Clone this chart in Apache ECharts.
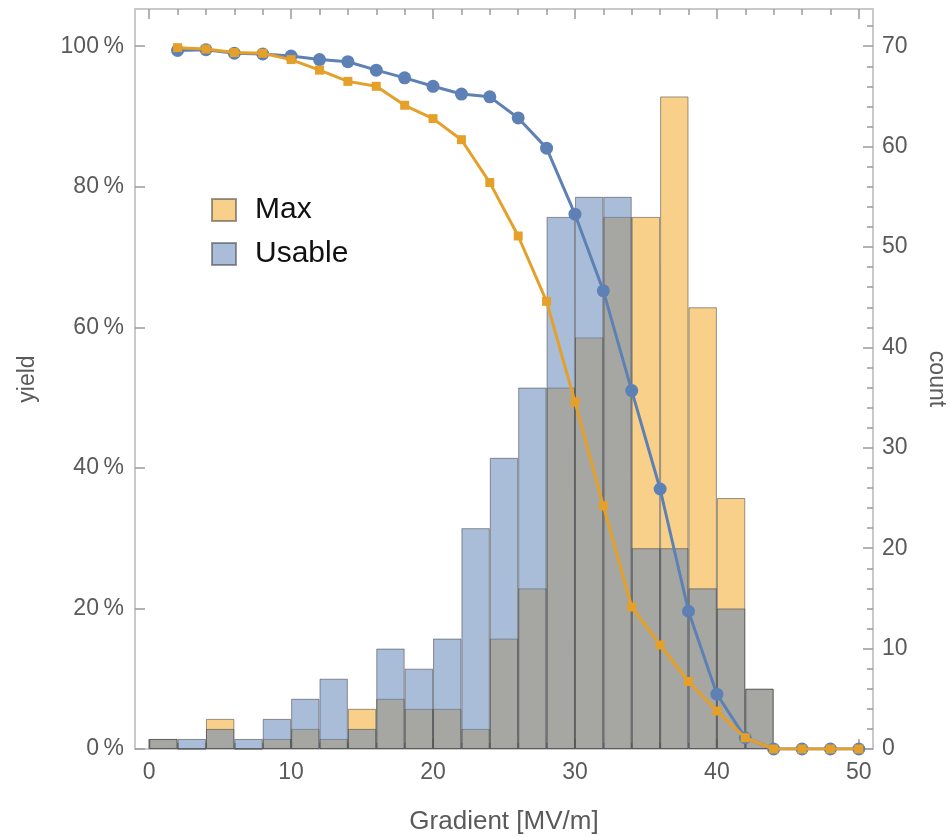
<!DOCTYPE html>
<html>
<head>
<meta charset="utf-8">
<script src="https://cdn.jsdelivr.net/npm/echarts@6/dist/echarts.min.js"></script>
<style>
  html, body { margin: 0; padding: 0; background: #fff; }
  #chart { width: 951px; height: 837px; }
</style>
</head>
<body>
<div id="chart"></div>
<script>
// histogram bins (centres, width 2 MV/m)
const binCenters = [1, 3, 5, 7, 9, 11, 13, 15, 17, 19, 21, 23, 25, 27, 29, 31, 33, 35, 37, 39, 41, 43, 45, 47, 49]
const maxCounts = [1, 0, 3, 0, 1, 2, 1, 4, 5, 4, 4, 2, 11, 16, 36, 41, 53, 53, 65, 44, 25, 6, 0, 0, 0]
const usableCounts = [1, 1, 2, 1, 3, 5, 7, 2, 10, 8, 11, 22, 29, 36, 53, 55, 55, 20, 20, 16, 14, 6, 0, 0, 0]

// yield curves (percent)
const gradients = [2, 4, 6, 8, 10, 12, 14, 16, 18, 20, 22, 24, 26, 28, 30, 32, 34, 36, 38, 40, 42, 44, 46, 48, 50]
const maxYield = [99.8, 99.6, 99.1, 99.0, 98.1, 96.6, 95.0, 94.3, 91.6, 89.7, 86.7, 80.6, 73.0, 63.7, 49.4, 34.6, 20.2, 14.8, 9.6, 5.4, 1.6, 0, 0, 0, 0]
const usableYield = [99.4, 99.5, 99.0, 98.9, 98.6, 98.1, 97.8, 96.6, 95.5, 94.3, 93.2, 92.8, 89.8, 85.5, 76.1, 65.2, 51.0, 37.0, 19.6, 7.8, 1.6, 0, 0, 0, 0]

// tick values
const xLabels = [0, 10, 20, 30, 40, 50]
const xMinor = [0, 2, 4, 6, 8, 10, 12, 14, 16, 18, 20, 22, 24, 26, 28, 30, 32, 34, 36, 38, 40, 42, 44, 46, 48, 50]
const yieldLabels = [0, 20, 40, 60, 80, 100]
const countLabels = [0, 10, 20, 30, 40, 50, 60, 70]
const countMinor = [0, 2, 4, 6, 8, 10, 12, 14, 16, 18, 20, 22, 24, 26, 28, 30, 32, 34, 36, 38, 40, 42, 44, 46, 48, 50, 52, 54, 56, 58, 60, 62, 64, 66, 68, 70, 72]

const font = 'Liberation Sans, Arial, sans-serif'
const tickColor = '#9a9a9a'
const labelColor = '#5a5a5a'

const box = { left: 135, right: 78, top: 9, bottom: 88, outerBoundsMode: 'none' }
const xMin = -1
const xMax = 51
const yieldMax = 105.3
const countMax = yieldMax * 0.7
const barW = 2 * (951 - box.left - box.right) / (xMax - xMin)

const chart = echarts.init(document.getElementById('chart'))

const tickStyle = { lineStyle: { color: tickColor, width: 1.5 } }
const xAxisBase = (gridIndex, position) => ({
  type: 'value',
  gridIndex,
  position,
  min: xMin,
  max: xMax,
  axisLine: { show: false, onZero: false },
  splitLine: { show: false }
})
const yAxisBase = (gridIndex, position, max) => ({
  type: 'value',
  gridIndex,
  position,
  min: 0,
  max,
  axisLine: { show: false, onZero: false },
  splitLine: { show: false }
})

chart.setOption({
  animation: false,
  grid: [
    { ...box, show: true, borderColor: '#c9c9c9', borderWidth: 2 },
    { ...box }
  ],
  legend: {
    data: ['Max', 'Usable'],
    orient: 'vertical',
    left: 211,
    top: 195,
    padding: 0,
    icon: 'rect',
    itemWidth: 24,
    itemHeight: 22,
    itemGap: 14,
    textStyle: { fontSize: 30, color: '#111', fontFamily: font, padding: [0, 0, 0, 14] }
  },
  xAxis: [
    {
      ...xAxisBase(0, 'bottom'),
      name: 'Gradient [MV/m]',
      nameLocation: 'middle',
      nameGap: 60,
      nameTextStyle: { fontSize: 26, color: labelColor, fontFamily: font },
      axisTick: { inside: true, length: 10, customValues: xLabels, ...tickStyle },
      axisLabel: { customValues: xLabels, fontSize: 23, color: labelColor, fontFamily: font, margin: 12 }
    },
    {
      ...xAxisBase(0, 'top'),
      axisTick: { inside: true, length: 10, customValues: xLabels, ...tickStyle },
      axisLabel: { show: false }
    },
    {
      ...xAxisBase(1, 'bottom'),
      axisTick: { inside: true, length: 6, customValues: xMinor, ...tickStyle },
      axisLabel: { show: false }
    },
    {
      ...xAxisBase(1, 'top'),
      axisTick: { inside: true, length: 6, customValues: xMinor, ...tickStyle },
      axisLabel: { show: false }
    }
  ],
  yAxis: [
    {
      ...yAxisBase(0, 'left', yieldMax),
      name: 'yield',
      nameLocation: 'middle',
      nameGap: 96,
      nameRotate: 90,
      nameTextStyle: { fontSize: 23, color: labelColor, fontFamily: font },
      axisTick: { inside: true, length: 10, customValues: yieldLabels, ...tickStyle },
      axisLabel: {
        customValues: yieldLabels,
        fontSize: 23,
        color: labelColor,
        fontFamily: font,
        margin: 11,
        formatter: (v) => v + '\u2009%'
      }
    },
    {
      ...yAxisBase(0, 'right', countMax),
      name: 'count',
      nameLocation: 'middle',
      nameGap: 52,
      nameRotate: -90,
      nameTextStyle: { fontSize: 23, color: labelColor, fontFamily: font },
      axisTick: { inside: true, length: 10, customValues: countLabels, ...tickStyle },
      axisLabel: { customValues: countLabels, fontSize: 23, color: labelColor, fontFamily: font, margin: 9 }
    },
    {
      ...yAxisBase(1, 'right', countMax),
      axisTick: { inside: true, length: 6, customValues: countMinor, ...tickStyle },
      axisLabel: { show: false }
    }
  ],
  series: [
    {
      name: 'Max',
      type: 'bar',
      xAxisIndex: 0,
      yAxisIndex: 1,
      barWidth: barW,
      barGap: '-100%',
      data: binCenters.map((x, i) => [x, maxCounts[i]]),
      itemStyle: { color: 'rgba(242,170,42,0.55)', borderColor: 'rgba(55,55,55,0.5)', borderWidth: 1 }
    },
    {
      name: 'Usable',
      type: 'bar',
      xAxisIndex: 0,
      yAxisIndex: 1,
      barWidth: barW,
      barGap: '-100%',
      data: binCenters.map((x, i) => [x, usableCounts[i]]),
      itemStyle: { color: 'rgba(99,133,184,0.55)', borderColor: 'rgba(55,55,55,0.5)', borderWidth: 1 }
    },
    {
      name: 'Usable yield',
      type: 'line',
      xAxisIndex: 0,
      yAxisIndex: 0,
      data: gradients.map((x, i) => [x, usableYield[i]]),
      symbol: 'circle',
      symbolSize: 13,
      lineStyle: { color: '#5e81b5', width: 3 },
      itemStyle: { color: '#5e81b5' },
      z: 5
    },
    {
      name: 'Max yield',
      type: 'line',
      xAxisIndex: 0,
      yAxisIndex: 0,
      data: gradients.map((x, i) => [x, maxYield[i]]),
      symbol: 'rect',
      symbolSize: 9,
      lineStyle: { color: '#e5a02a', width: 3 },
      itemStyle: { color: '#e5a02a' },
      z: 6
    }
  ]
})
</script>
</body>
</html>
